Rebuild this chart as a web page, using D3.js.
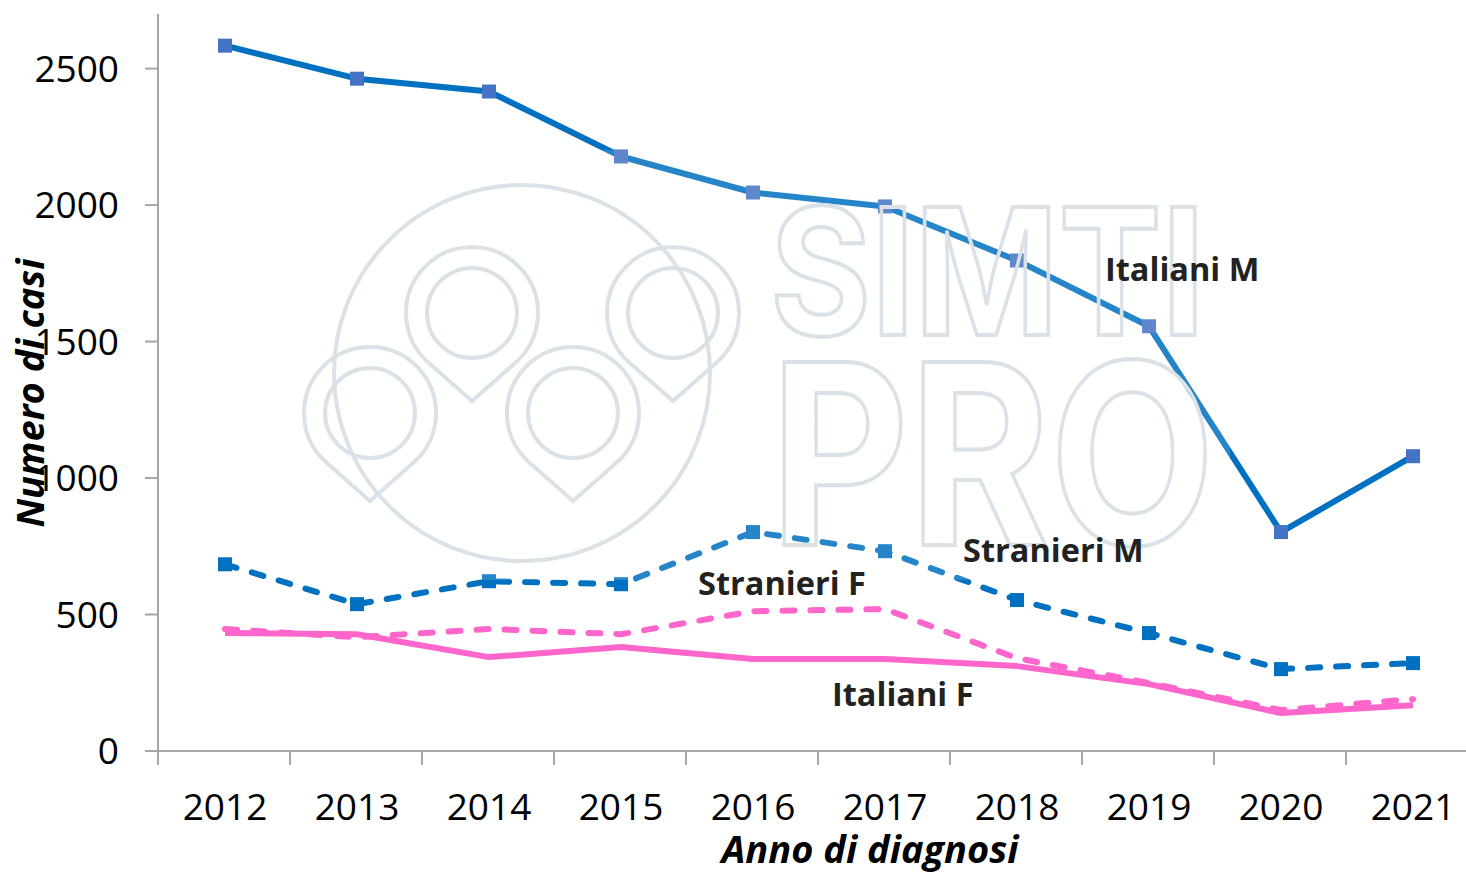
<!DOCTYPE html>
<html>
<head>
<meta charset="utf-8">
<script src="https://cdn.jsdelivr.net/npm/d3@7"></script>
<style>
  body { margin: 0; background: white; }
  text { font-family: "Open Sans", sans-serif; }
  .tick-label { font-size: 37px; fill: #000; }
  .axis-title { font-size: 38px; font-weight: bold; font-style: italic; fill: #000; }
  .series-label { font-size: 32.5px; font-weight: bold; fill: #222; }
  .mark { fill: none; stroke: #dbe2e7; stroke-width: 4; }
</style>
</head>
<body>
<script>
var years = [2012, 2013, 2014, 2015, 2016, 2017, 2018, 2019, 2020, 2021];
var italianiM  = [2584, 2463, 2416, 2178, 2046, 1995, 1797, 1556, 802, 1080];
var stranieriM = [684, 538, 622, 611, 802, 732, 553, 432, 300, 322];
var stranieriF = [447, 417, 447, 428, 512, 520, 340, 249, 150, 190];
var italianiF  = [432, 428, 344, 381, 337, 337, 311, 245, 139, 168];
var yTicks = [0, 500, 1000, 1500, 2000, 2500];

var width = 1466, height = 875;

var svg = d3.select("body").append("svg")
    .attr("width", width)
    .attr("height", height);

var x = d3.scaleBand().domain(years).range([159, 1479]);
var y = d3.scaleLinear().domain([0, 2700]).range([751, 14]);
var cx = function(i) { return x(years[i]) + x.bandwidth() / 2; };

// axes
svg.append("line")
    .attr("x1", 158).attr("x2", 158).attr("y1", 14).attr("y2", 765)
    .attr("stroke", "#a6a6a6").attr("stroke-width", 2);
svg.append("line")
    .attr("x1", 145).attr("x2", width).attr("y1", y(0)).attr("y2", y(0))
    .attr("stroke", "#a6a6a6").attr("stroke-width", 2);

svg.selectAll("line.ytick").data(yTicks).enter().append("line")
    .attr("class", "ytick")
    .attr("x1", 145).attr("x2", 158)
    .attr("y1", function(d) { return y(d); }).attr("y2", function(d) { return y(d); })
    .attr("stroke", "#a6a6a6").attr("stroke-width", 2);

svg.selectAll("text.ylab").data(yTicks).enter().append("text")
    .attr("class", "tick-label ylab")
    .attr("x", 119)
    .attr("y", function(d) { return y(d) + 13; })
    .attr("text-anchor", "end")
    .text(function(d) { return d; });

svg.selectAll("line.xtick").data(years).enter().append("line")
    .attr("class", "xtick")
    .attr("x1", function(d) { return x(d) - 1; }).attr("x2", function(d) { return x(d) - 1; })
    .attr("y1", y(0)).attr("y2", 765)
    .attr("stroke", "#a6a6a6").attr("stroke-width", 2);

svg.selectAll("text.xlab").data(years).enter().append("text")
    .attr("class", "tick-label xlab")
    .attr("x", function(d, i) { return cx(i); })
    .attr("y", 820)
    .attr("text-anchor", "middle")
    .text(function(d) { return d; });

svg.append("text")
    .attr("class", "axis-title")
    .attr("x", 870).attr("y", 863)
    .attr("text-anchor", "middle")
    .text("Anno di diagnosi");

svg.append("text")
    .attr("class", "axis-title")
    .attr("transform", "translate(44,393) rotate(-90)")
    .attr("text-anchor", "middle")
    .text("Numero di casi");

// lines
var line = d3.line()
    .x(function(d, i) { return cx(i); })
    .y(function(d) { return y(d); });

var series = [
  {values: italianiF,  color: "#ff66cc", dash: null},
  {values: stranieriF, color: "#ff66cc", dash: "12,16"},
  {values: stranieriM, color: "#0070c0", dash: "12,16", marker: "#0070c0"},
  {values: italianiM,  color: "#0070c0", dash: null, marker: "#4472c4"}
];

series.forEach(function(s) {
  svg.append("path")
      .datum(s.values)
      .attr("d", line)
      .attr("fill", "none")
      .attr("stroke", s.color)
      .attr("stroke-width", 6)
      .attr("stroke-linejoin", "round")
      .attr("stroke-linecap", s.dash ? "round" : "butt")
      .attr("stroke-dasharray", s.dash);
  if (s.marker) {
    svg.selectAll(null).data(s.values).enter().append("rect")
        .attr("x", function(d, i) { return cx(i) - 7; })
        .attr("y", function(d) { return y(d) - 7; })
        .attr("width", 14).attr("height", 14)
        .attr("fill", s.marker);
  }
});

// watermark
var wm = svg.append("g");
wm.append("rect")
    .attr("x", 300).attr("y", 150).attr("width", 930).attr("height", 430)
    .attr("fill", "white").attr("fill-opacity", 0.15);
wm.append("circle")
    .attr("class", "mark")
    .attr("cx", 522).attr("cy", 373).attr("r", 188);

var pins = [[370, 413], [472, 313], [573, 413], [673, 313]];
function pinPath(c) {
  var R = 66, d = 88;
  var a = Math.asin(R / d);
  var px = c[0], py = c[1] + d;
  var tx = R * Math.cos(a), ty = R * Math.sin(a);
  return "M" + px + "," + py +
    "L" + (c[0] - tx) + "," + (c[1] + ty) +
    "A" + R + "," + R + " 0 1,1 " + (c[0] + tx) + "," + (c[1] + ty) + "Z";
}
pins.forEach(function(c) {
  wm.append("path").attr("class", "mark").attr("d", pinPath(c)).attr("fill", "white").attr("fill-opacity", 0.3);
  wm.append("circle").attr("class", "mark").attr("cx", c[0]).attr("cy", c[1]).attr("r", 45);
});

wm.append("text")
    .attr("class", "mark")
    .attr("x", 770).attr("y", 335)
    .attr("textLength", 435).attr("lengthAdjust", "spacingAndGlyphs")
    .style("font-family", "Inter").style("font-weight", 700).style("font-size", "176px")
    .text("SIMTI");
wm.append("text")
    .attr("class", "mark")
    .attr("x", 770).attr("y", 545)
    .attr("textLength", 445).attr("lengthAdjust", "spacingAndGlyphs")
    .style("font-family", "Inter").style("font-weight", 700).style("font-size", "252px")
    .text("PRO");

// series labels
var labels = [
  {text: "Italiani M", x: 1105, y: 281},
  {text: "Stranieri M", x: 963, y: 562},
  {text: "Stranieri F", x: 698, y: 595},
  {text: "Italiani F", x: 832, y: 706}
];
svg.selectAll("text.series-label").data(labels).enter().append("text")
    .attr("class", "series-label")
    .attr("x", function(d) { return d.x; })
    .attr("y", function(d) { return d.y; })
    .text(function(d) { return d.text; });
</script>
</body>
</html>
